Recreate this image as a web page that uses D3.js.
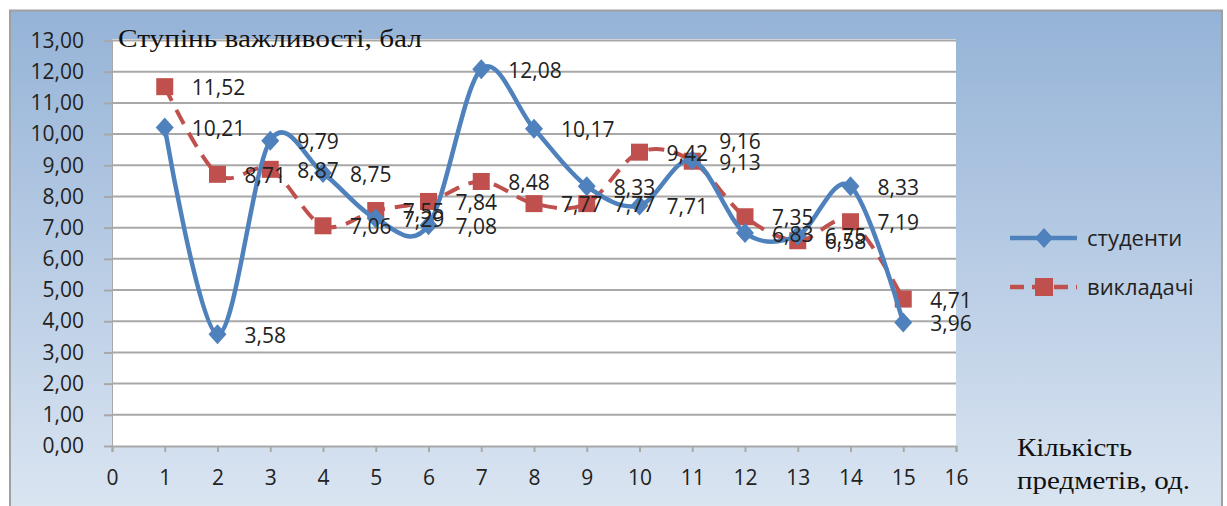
<!DOCTYPE html>
<html>
<head>
<meta charset="utf-8">
<script src="https://cdn.jsdelivr.net/npm/d3@7"></script>
<style>
  body { margin: 0; background: #fff; }
  svg { display: block; }
</style>
</head>
<body>
<svg id="chart" width="1227" height="506"></svg>
<script>
// data
var xValues = [1, 2, 3, 4, 5, 6, 7, 8, 9, 10, 11, 12, 13, 14, 15];
var students = [10.21, 3.58, 9.79, 8.75, 7.29, 7.08, 12.08, 10.17, 8.33, 7.71, 9.16, 6.83, 6.75, 8.33, 3.96];
var teachers = [11.52, 8.71, 8.87, 7.06, 7.55, 7.84, 8.48, 7.77, 7.77, 9.42, 9.13, 7.35, 6.58, 7.19, 4.71];
var seriesNames = ["студенти", "викладачі"];
var yTicks = [0, 1, 2, 3, 4, 5, 6, 7, 8, 9, 10, 11, 12, 13];
var xTicks = [0, 1, 2, 3, 4, 5, 6, 7, 8, 9, 10, 11, 12, 13, 14, 15, 16];

var locale = d3.formatLocale({decimal: ",", thousands: " ", grouping: [3], currency: ["", ""]});
var fmt = locale.format(".2f");

var blue = "#4F81BD", red = "#C0504D";
var sans = "'Open Sans', sans-serif";
var serif = "'Liberation Serif', serif";

var svg = d3.select("#chart");

// background gradient
var defs = svg.append("defs");
var grad = defs.append("linearGradient").attr("id", "bg")
    .attr("x1", 0).attr("y1", 0).attr("x2", 0).attr("y2", 1);
grad.append("stop").attr("offset", "0%").attr("stop-color", "#95B3D7");
grad.append("stop").attr("offset", "100%").attr("stop-color", "#DCE6F2");

svg.append("rect")
    .attr("x", 10).attr("y", 10.5)
    .attr("width", 1212).attr("height", 510)
    .attr("fill", "url(#bg)")
    .attr("stroke", "#A0A0A0").attr("stroke-width", 2);

var pLeft = 112, pRight = 956, pTop = 40.5, pBottom = 446;
var x = d3.scaleLinear().domain([0, 16]).range([pLeft, pRight]);
var y = d3.scaleLinear().domain([0, 13]).range([pBottom, pTop]);

// plot area
svg.append("rect")
    .attr("x", pLeft).attr("y", pTop - 1.5)
    .attr("width", pRight - pLeft).attr("height", pBottom - pTop + 1.5)
    .attr("fill", "#fff");

// gridlines
svg.append("g").selectAll("line")
    .data(yTicks.filter(d => d > 0))
    .enter().append("line")
    .attr("x1", pLeft).attr("x2", pRight)
    .attr("y1", d => y(d)).attr("y2", d => y(d))
    .attr("stroke", "#A8A8A8").attr("stroke-width", 2);

// y axis
var yAxis = svg.append("g")
    .attr("transform", "translate(" + pLeft + ",0)")
    .call(d3.axisLeft(y).tickValues(yTicks).tickFormat(fmt).tickSize(8).tickPadding(20));
yAxis.select(".domain").attr("stroke", "#A8A8A8").attr("stroke-width", 1);
yAxis.selectAll(".tick line").attr("stroke", "#A8A8A8").attr("stroke-width", 2);
yAxis.selectAll("text").attr("font-family", sans).attr("font-size", 21).attr("fill", "#222");

// x axis
var xAxis = svg.append("g")
    .attr("transform", "translate(0," + pBottom + ")")
    .call(d3.axisBottom(x).tickValues(xTicks).tickFormat(d3.format("d")).tickSize(6).tickPadding(18));
xAxis.select(".domain").attr("stroke", "#A8A8A8").attr("stroke-width", 2);
xAxis.selectAll(".tick line").attr("stroke", "#A8A8A8").attr("stroke-width", 2);
xAxis.selectAll("text").attr("font-family", sans).attr("font-size", 21).attr("fill", "#222");

// lines
var line = d3.line()
    .x(d => x(d[0]))
    .y(d => y(d[1]))
    .curve(d3.curveCatmullRom.alpha(0));

var teachPts = xValues.map((v, i) => [v, teachers[i]]);
var studPts = xValues.map((v, i) => [v, students[i]]);

svg.append("path")
    .datum(teachPts)
    .attr("d", line)
    .attr("fill", "none")
    .attr("stroke", red).attr("stroke-width", 4)
    .attr("stroke-dasharray", "16,10");

svg.append("g").selectAll("rect")
    .data(teachPts)
    .enter().append("rect")
    .attr("x", d => x(d[0]) - 8.5).attr("y", d => y(d[1]) - 8.5)
    .attr("width", 17).attr("height", 17)
    .attr("fill", red);

svg.append("path")
    .datum(studPts)
    .attr("d", line)
    .attr("fill", "none")
    .attr("stroke", blue).attr("stroke-width", 4.5);

var diamond = "M0,-10L9,0L0,10L-9,0Z";
svg.append("g").selectAll("path")
    .data(studPts)
    .enter().append("path")
    .attr("d", diamond)
    .attr("transform", d => "translate(" + x(d[0]) + "," + y(d[1]) + ")")
    .attr("fill", blue);

// data labels
var nudge = {"s10": -20};
function addLabels(pts, key) {
  svg.append("g").selectAll("text")
      .data(pts)
      .enter().append("text")
      .attr("x", d => x(d[0]) + 27)
      .attr("y", (d, i) => y(d[1]) + 3 + (nudge[key + i] || 0))
      .attr("dominant-baseline", "middle")
      .attr("font-family", sans).attr("font-size", 21).attr("fill", "#222")
      .text(d => fmt(d[1]));
}
addLabels(teachPts, "t");
addLabels(studPts, "s");

// title and axis caption
svg.append("text")
    .attr("x", 118).attr("y", 47)
    .attr("font-family", serif).attr("font-size", 26).attr("fill", "#111")
    .attr("textLength", 304).attr("lengthAdjust", "spacingAndGlyphs")
    .text("Ступінь важливості, бал");

var cap = svg.append("text")
    .attr("font-family", serif).attr("font-size", 26).attr("fill", "#111");
cap.append("tspan").attr("x", 1017).attr("y", 456)
    .attr("textLength", 115).attr("lengthAdjust", "spacingAndGlyphs").text("Кількість");
cap.append("tspan").attr("x", 1017).attr("y", 489)
    .attr("textLength", 173).attr("lengthAdjust", "spacingAndGlyphs").text("предметів, од.");

// legend
var legend = svg.append("g");
var legRows = [
  {name: seriesNames[0], color: blue, y: 238, dash: null, marker: "diamond"},
  {name: seriesNames[1], color: red, y: 287, dash: "16,10", marker: "square"}
];
legRows.forEach(function(r) {
  legend.append("line")
      .attr("x1", 1010).attr("x2", 1077)
      .attr("y1", r.y).attr("y2", r.y)
      .attr("stroke", r.color).attr("stroke-width", 4.5)
      .attr("stroke-dasharray", r.dash ? "14,8" : null);
  if (r.marker == "diamond") {
    legend.append("path").attr("d", diamond)
        .attr("transform", "translate(1044," + r.y + ")")
        .attr("fill", r.color);
  } else {
    legend.append("rect")
        .attr("x", 1035).attr("y", r.y - 9)
        .attr("width", 18).attr("height", 18)
        .attr("fill", r.color);
  }
  legend.append("text")
      .attr("x", 1087).attr("y", r.y + 2)
      .attr("dominant-baseline", "middle")
      .attr("font-family", sans).attr("font-size", 22).attr("fill", "#222")
      .text(r.name);
});
</script>
</body>
</html>
